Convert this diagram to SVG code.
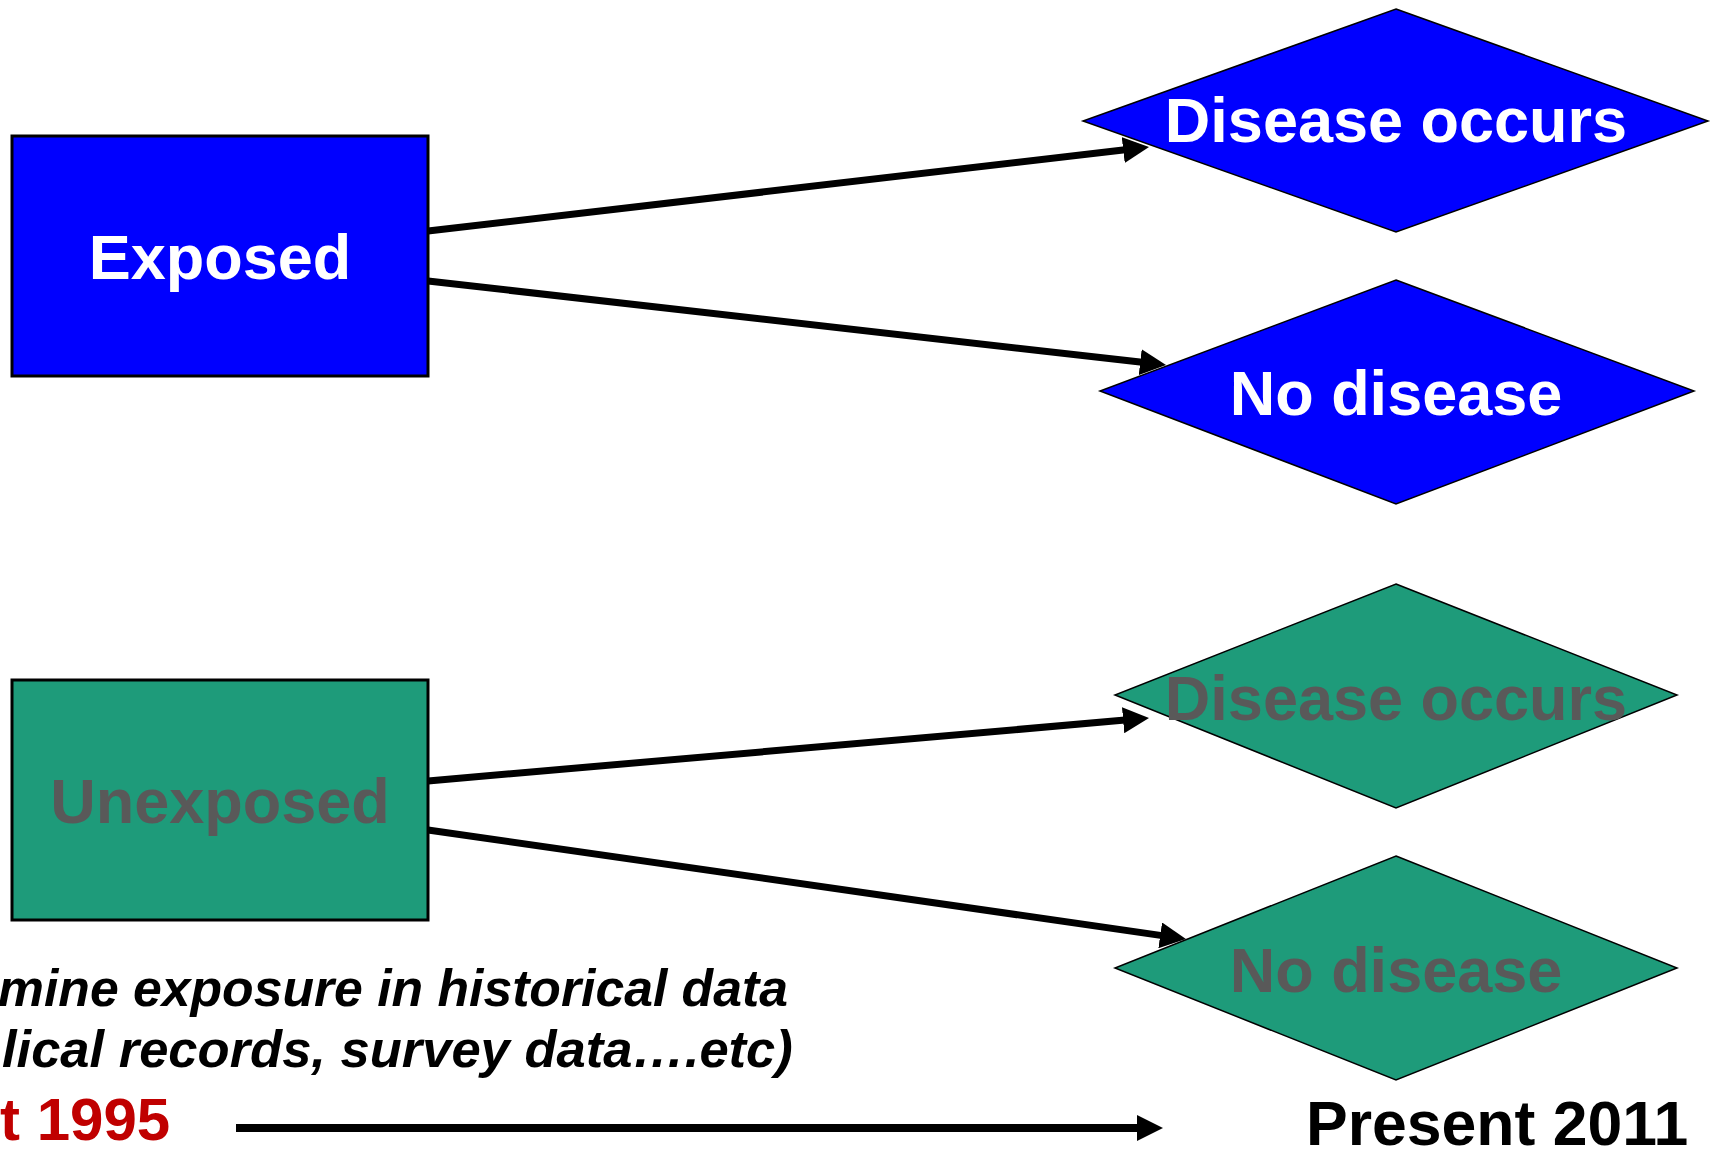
<svg xmlns="http://www.w3.org/2000/svg" width="1719" height="1151" viewBox="0 0 1719 1151">
<style>
.t{font-family:"Liberation Sans",Arial,sans-serif;font-weight:bold;}
.c{text-anchor:middle;font-size:63px;}
.w{fill:#FFFFFF;}
.g{fill:#595959;}
.bl{fill:#0000FF;}
.gr{fill:#1E9B7A;}
.box{stroke:#000;stroke-width:3;}
.dia{stroke:#000;stroke-width:1.5;}
.con{stroke:#000;stroke-width:7;fill:none;marker-end:url(#ah);}
</style>
<defs>
<marker id="ah" markerUnits="userSpaceOnUse" markerWidth="26" markerHeight="26" refX="2" refY="13" orient="auto" viewBox="0 0 26 26">
<path d="M0,0 L26,13 L0,26 z" fill="#000"/>
</marker>
</defs>
<rect width="1719" height="1151" fill="#FFFFFF"/>
<g id="connectors">
<line class="con" x1="428" y1="231" x2="1125.2" y2="149.8"/>
<line class="con" x1="428" y1="281" x2="1142.2" y2="362.3"/>
<line class="con" x1="428" y1="781" x2="1125.1" y2="720.1"/>
<line class="con" x1="428" y1="830" x2="1162.2" y2="935.6"/>
<line class="con" x1="236" y1="1128" x2="1139" y2="1128" style="stroke-width:8"/>
</g>
<g id="exposed">
<rect class="box bl" x="12" y="136" width="416" height="240"/>
<text class="t c w" x="220" y="279">Exposed</text>
</g>
<g id="unexposed">
<rect class="box gr" x="12" y="680" width="416" height="240"/>
<text class="t c g" x="220" y="823">Unexposed</text>
</g>
<g id="exp-disease">
<polygon class="dia bl" points="1396,9 1708,121 1396,232 1083,121"/>
<text class="t c w" x="1396" y="142">Disease occurs</text>
</g>
<g id="exp-nodisease">
<polygon class="dia bl" points="1396,280 1694,391 1396,504 1100,391"/>
<text class="t c w" x="1396" y="415">No disease</text>
</g>
<g id="unexp-disease">
<polygon class="dia gr" points="1396,584 1677,695 1396,808 1115,695"/>
<text class="t c g" x="1396" y="720">Disease occurs</text>
</g>
<g id="unexp-nodisease">
<polygon class="dia gr" points="1396,856 1677,968 1396,1080 1115,968"/>
<text class="t c g" x="1396" y="992">No disease</text>
</g>
<g id="notes">
<text class="t" x="-2" y="1006" font-size="51.7" font-style="italic" fill="#000">mine exposure in historical data</text>
<text class="t" x="2" y="1067" font-size="52.5" font-style="italic" fill="#000">lical records, survey data….etc)</text>
<text class="t" x="0" y="1140" font-size="60" fill="#C00000">t 1995</text>
<text class="t" x="1306" y="1145" font-size="62.5" fill="#000">Present 2011</text>
</g>
</svg>
